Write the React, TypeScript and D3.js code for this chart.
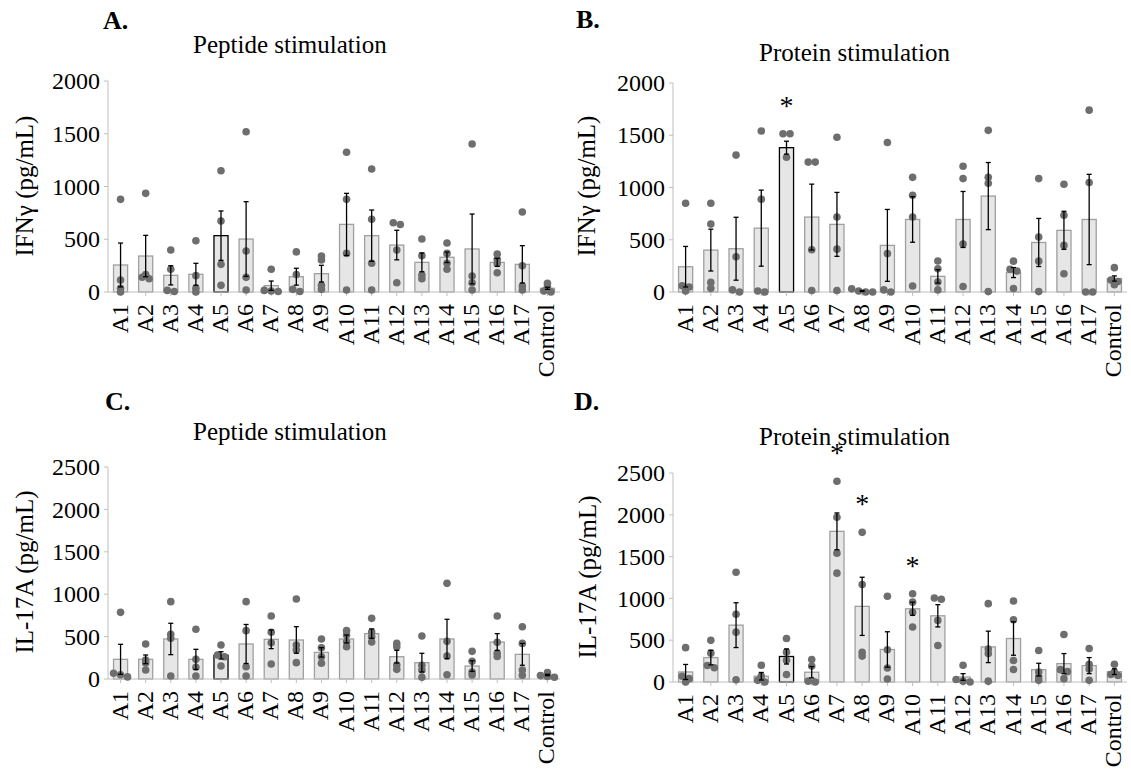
import React from "react";
import * as d3 from "d3";

const categories = ["A1","A2","A3","A4","A5","A6","A7","A8","A9","A10","A11","A12","A13","A14","A15","A16","A17","Control"];

const yTicksIFN = [0, 500, 1000, 1500, 2000];
const yTicksIL = [0, 500, 1000, 1500, 2000, 2500];

// Panel A: Peptide stimulation, IFNγ
const pepIFNMean = [256, 341, 158, 168, 534, 502, 60, 145, 174, 641, 534, 445, 281, 329, 408, 281, 262, 35];
const pepIFNErr = [208, 196, 91, 104, 234, 354, 44, 80, 79, 294, 243, 140, 89, 50, 331, 38, 177, 10];
const pepIFNDots = [
  [878, 114, 35, 0], [935, 165, 140, 125], [398, 215, 15, 5], [486, 155, 35, 0],
  [1150, 673, 262, 63], [1519, 389, 139, 19], [215, 15, 10, 5], [380, 165, 25, 5],
  [341, 303, 63, 25], [1324, 878, 366, 19], [1166, 689, 272, 19], [657, 640, 398, 88],
  [502, 344, 161, 126], [464, 366, 272, 215], [1403, 152, 88, 19], [360, 310, 270, 183],
  [758, 249, 57, 19], [82, 50, 10, 0],
];
const pepIFNStars: string[] = [];

// Panel B: Protein stimulation, IFNγ
const proIFNMean = [242, 401, 414, 611, 1381, 717, 647, 10, 446, 694, 150, 694, 918, 186, 474, 590, 694, 129];
const proIFNErr = [194, 200, 301, 364, 62, 315, 306, 5, 344, 218, 64, 268, 321, 48, 230, 182, 432, 25];
const proIFNDots = [
  [850, 60, 48, 10], [850, 650, 92, 35], [1310, 337, 20, 0], [1541, 888, 10, 0],
  [1515, 1515, 1290], [1243, 1243, 405, 15], [1481, 717, 410, 15], [30, 10, 0, 0],
  [1430, 368, 20, 0], [1097, 925, 718, 57], [297, 223, 96, 20], [1203, 1085, 459, 53],
  [1547, 1097, 1040, 5], [295, 218, 200, 33], [1085, 527, 295, 5], [1031, 734, 446, 175],
  [1740, 1048, 0, 0], [233, 115, 100, 70],
];
const proIFNStars = ["A5"];

// Panel C: Peptide stimulation, IL-17A
const pepILMean = [232, 232, 472, 232, 279, 413, 468, 460, 314, 472, 535, 263, 193, 472, 153, 436, 291, 47];
const pepILErr = [177, 51, 185, 118, 43, 230, 110, 157, 55, 47, 55, 75, 110, 232, 63, 99, 129, 8];
const pepILDots = [
  [786, 67, 50, 25], [413, 224, 190, 106], [912, 527, 480, 35], [586, 232, 138, 35],
  [401, 283, 263, 153], [912, 570, 145, 35], [743, 551, 428, 177], [943, 401, 342, 193],
  [472, 369, 263, 185], [570, 519, 440, 381], [715, 554, 499, 436], [420, 381, 165, 114],
  [507, 161, 106, 20], [1128, 444, 271, 51], [326, 208, 83, 47], [743, 432, 303, 266],
  [617, 420, 106, 44], [75, 40, 30, 20],
];
const pepILStars: string[] = [];

// Panel D: Protein stimulation, IL-17A
const proILMean = [120, 292, 680, 69, 305, 117, 1802, 905, 389, 876, 792, 60, 420, 520, 148, 220, 196, 124];
const proILErr = [90, 87, 268, 45, 90, 68, 220, 348, 212, 79, 133, 40, 188, 200, 76, 120, 96, 34];
const proILDots = [
  [411, 68, 40, 0], [498, 345, 197, 170], [1313, 809, 596, 26], [201, 70, 20, 0],
  [520, 357, 260, 90], [270, 190, 10, 0], [2402, 1971, 1541, 1302], [1790, 1165, 354, 310],
  [1025, 386, 168, 36], [1056, 955, 833, 657], [1004, 990, 737, 437], [200, 30, 10, 0],
  [937, 395, 340, 10], [969, 744, 257, 150], [376, 120, 60, 20], [568, 148, 124, 40],
  [400, 212, 156, 20], [212, 120, 90, 78],
];
const proILStars = ["A7", "A8", "A10"];

const FONT = "'Liberation Serif', 'Times New Roman', Times, serif";
const AXIS = "#bfbfbf";
const BAR_FILL = "#e6e6e6";
const BAR_STROKE = "#a0a0a0";
const DOT = "#6e6e6e";

type PanelProps = {
  x0: number; x1: number; y0: number; yTop: number; yMax: number; ticks: number[];
  means: number[]; errs: number[]; dots: number[][]; stars: string[];
  title: string; titleX: number; titleY: number;
  letter: string; letterX: number; letterY: number;
  yLabel: string; yLabelX: number; yLabelY: number;
};

function Panel(p: PanelProps) {
  const x = d3.scaleBand<string>().domain(categories).range([p.x0, p.x1]).paddingInner(0).paddingOuter(0);
  const y = d3.scaleLinear().domain([0, p.yMax]).range([p.y0, p.yTop]);
  const bw = x.bandwidth();
  const barW = bw * 0.56;
  const r = 3.8;

  const dotEls: JSX.Element[] = [];
  categories.forEach((c, i) => {
    const cx = (x(c) as number) + bw / 2;
    const vals = [...p.dots[i]].sort((a, b) => b - a);
    let cluster: number[] = [];
    const flush = () => {
      const n = cluster.length;
      cluster.forEach((v, k) => {
        const off = (k - (n - 1) / 2) * 7;
        dotEls.push(<circle key={`d${i}-${dotEls.length}`} cx={cx + off} cy={y(v)} r={r} fill={DOT} />);
      });
      cluster = [];
    };
    vals.forEach((v) => {
      if (cluster.length && Math.abs(y(cluster[cluster.length - 1]) - y(v)) >= 2.5) flush();
      cluster.push(v);
    });
    flush();
  });

  return (
    <g>
      <text x={p.letterX} y={p.letterY} fontFamily={FONT} fontWeight="bold" fontSize={26} fill="#000">{p.letter}</text>
      <text x={p.titleX} y={p.titleY} fontFamily={FONT} fontSize={25} fill="#000">{p.title}</text>
      <text transform={`translate(${p.yLabelX},${p.yLabelY}) rotate(-90)`} textAnchor="middle" fontFamily={FONT} fontSize={25} fill="#000">{p.yLabel}</text>
      <line x1={p.x0} x2={p.x0} y1={p.y0} y2={p.yTop} stroke={AXIS} strokeWidth={1} />
      {p.ticks.map((t) => (
        <g key={`t${t}`}>
          <line x1={p.x0 - 4} x2={p.x0} y1={y(t)} y2={y(t)} stroke={AXIS} strokeWidth={1} />
          <text x={p.x0 - 8} y={y(t)} dy="0.34em" textAnchor="end" fontFamily={FONT} fontSize={24} fill="#000">{t}</text>
        </g>
      ))}
      {categories.map((c, i) => (
        <rect key={`b${c}`} x={(x(c) as number) + (bw - barW) / 2} y={y(p.means[i])} width={barW}
          height={p.y0 - y(p.means[i])} fill={BAR_FILL} stroke={c === "A5" ? "#000" : BAR_STROKE} strokeWidth={1.3} />
      ))}
      <line x1={p.x0} x2={p.x1} y1={p.y0} y2={p.y0} stroke={AXIS} strokeWidth={1} />
      {categories.map((c) => {
        const cx = (x(c) as number) + bw / 2;
        return (
          <g key={`x${c}`}>
            <line x1={cx} x2={cx} y1={p.y0} y2={p.y0 + 4} stroke={AXIS} strokeWidth={1} />
            <text transform={`translate(${cx + 7},${p.y0 + 12}) rotate(-90)`} textAnchor="end" fontFamily={FONT} fontSize={24} fill="#000">{c}</text>
          </g>
        );
      })}
      {dotEls}
      {categories.map((c, i) => {
        const cx = (x(c) as number) + bw / 2;
        const yt = y(p.means[i] + p.errs[i]);
        const yb = y(Math.max(0, p.means[i] - p.errs[i]));
        return (
          <g key={`e${c}`} stroke="#000" strokeWidth={1.3}>
            <line x1={cx} x2={cx} y1={yt} y2={yb} />
            <line x1={cx - 2.5} x2={cx + 2.5} y1={yt} y2={yt} />
            <line x1={cx - 2.5} x2={cx + 2.5} y1={yb} y2={yb} />
          </g>
        );
      })}
      {p.stars.map((c) => {
        const i = categories.indexOf(c);
        const top = Math.max(...p.dots[i], p.means[i] + p.errs[i]);
        const cx = (x(c) as number) + bw / 2;
        return (
          <text key={`s${c}`} x={cx} y={y(top) - 30 + 11} textAnchor="middle" fontFamily={FONT} fontSize={28} fill="#000">*</text>
        );
      })}
    </g>
  );
}

export default function App() {
  return (
    <svg width={1131} height={770} style={{ position: "absolute", left: 0, top: 0, background: "#fff" }}>
      <rect width={1131} height={770} fill="#fff" />
      <Panel x0={108} x1={560} y0={292} yTop={81} yMax={2000} ticks={yTicksIFN}
        means={pepIFNMean} errs={pepIFNErr} dots={pepIFNDots} stars={pepIFNStars}
        title="Peptide stimulation" titleX={193} titleY={53}
        letter="A." letterX={103} letterY={29}
        yLabel="IFNγ (pg/mL)" yLabelX={33} yLabelY={186} />
      <Panel x0={673} x1={1127} y0={292} yTop={83} yMax={2000} ticks={yTicksIFN}
        means={proIFNMean} errs={proIFNErr} dots={proIFNDots} stars={proIFNStars}
        title="Protein stimulation" titleX={759} titleY={61}
        letter="B." letterX={576} letterY={28}
        yLabel="IFNγ (pg/mL)" yLabelX={595} yLabelY={186} />
      <Panel x0={108} x1={560} y0={679} yTop={467} yMax={2500} ticks={yTicksIL}
        means={pepILMean} errs={pepILErr} dots={pepILDots} stars={pepILStars}
        title="Peptide stimulation" titleX={193} titleY={440}
        letter="C." letterX={105} letterY={410}
        yLabel="IL-17A (pg/mL)" yLabelX={33} yLabelY={572} />
      <Panel x0={673} x1={1127} y0={682} yTop={473} yMax={2500} ticks={yTicksIL}
        means={proILMean} errs={proILErr} dots={proILDots} stars={proILStars}
        title="Protein stimulation" titleX={759} titleY={445}
        letter="D." letterX={574} letterY={410}
        yLabel="IL-17A (pg/mL)" yLabelX={596} yLabelY={577} />
    </svg>
  );
}
